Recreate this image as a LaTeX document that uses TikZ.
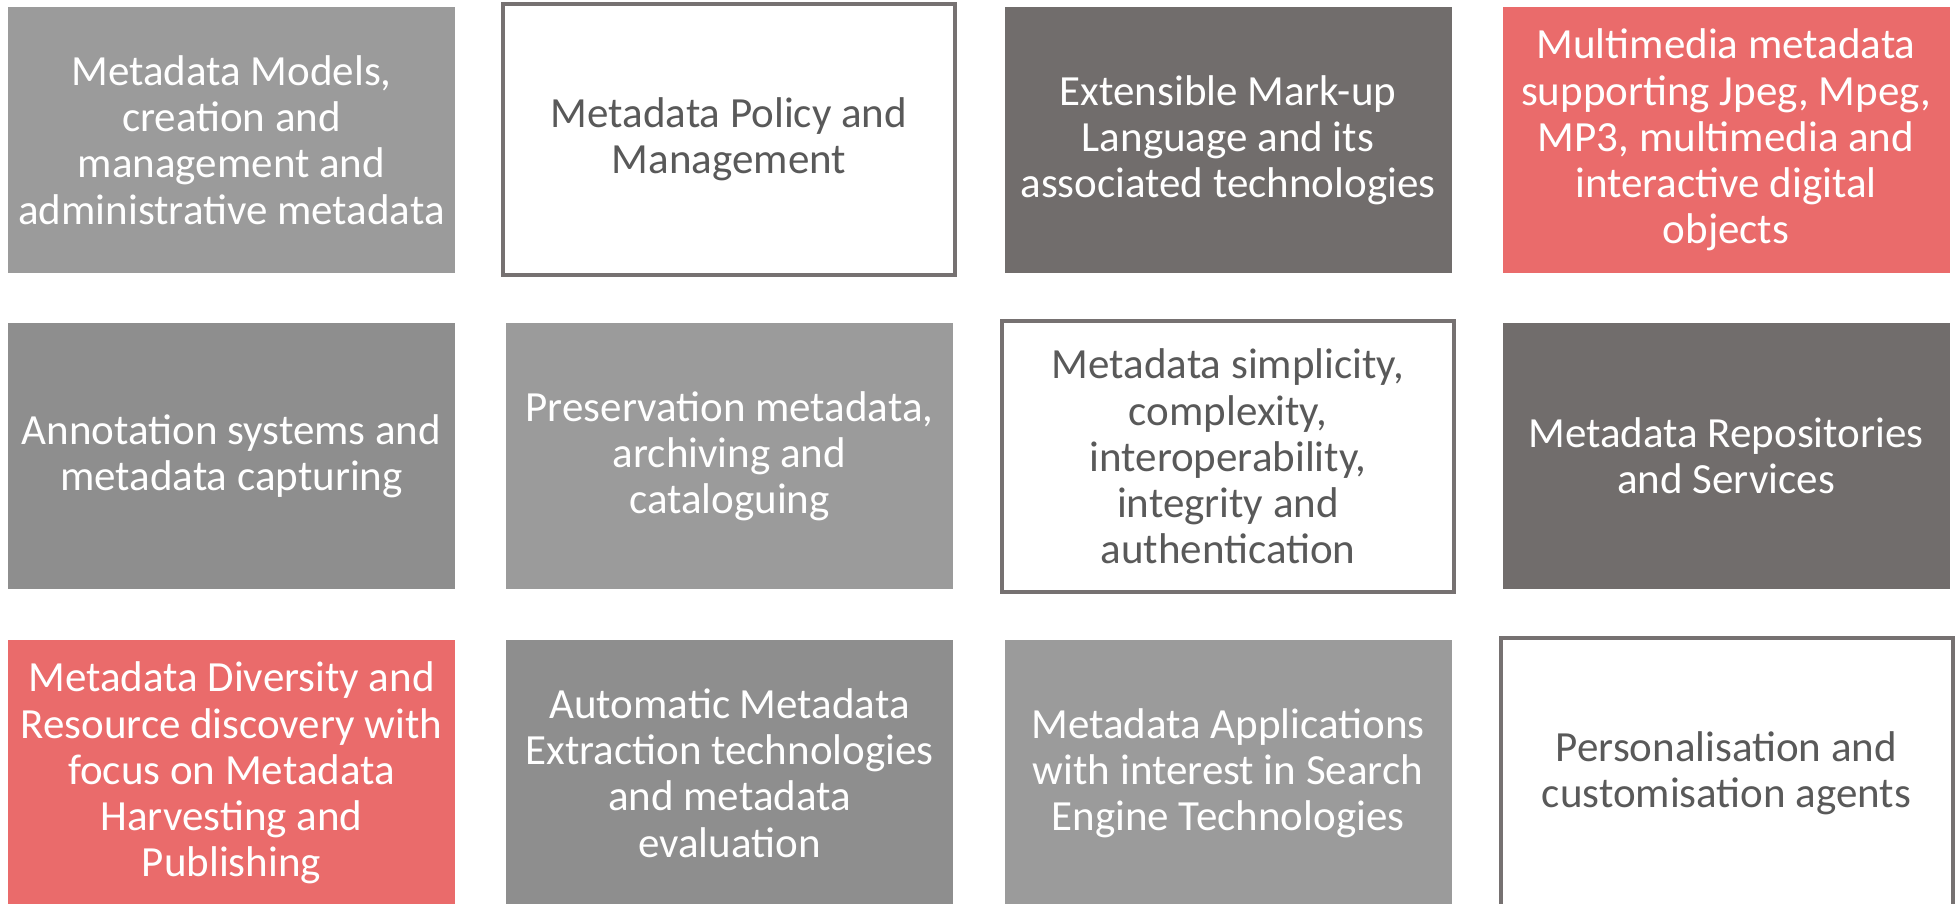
\documentclass[tikz,border=0pt]{standalone}
\usepackage{fontspec}
\setmainfont{Carlito}
\definecolor{lightgrey}{HTML}{9B9B9B}
\definecolor{midgrey}{HTML}{8E8E8E}
\definecolor{darkgrey}{HTML}{716D6C}
\definecolor{salmon}{HTML}{EA6B6B}
\definecolor{framegrey}{HTML}{767171}
\definecolor{textgrey}{HTML}{595959}
\begin{document}
\begin{tikzpicture}
[x=0.5pt,y=-0.5pt,
topic/.style={minimum width=223.5pt,minimum height=133pt,inner sep=0pt,
              align=center,text=white,
              font=\fontsize{21.5}{23.1}\selectfont},
framed/.style={topic,fill=white,draw=framegrey,line width=2pt,
               minimum width=226pt,minimum height=135.5pt,text=textgrey}]
\useasboundingbox (0,0) rectangle (1958,904);
\clip (0,0) rectangle (1958,904);
% first row
\node[topic,fill=lightgrey] (models) at (231.5,140)
  {Metadata Models,\\creation and\\management and\\administrative metadata};
\node[framed] (policy) at (729,139.5)
  {Metadata Policy and\\Management};
\node[topic,fill=darkgrey] (xml) at (1228,140)
  {Extensible Mark-up\\Language and its\\associated technologies};
\node[topic,fill=salmon] (multimedia) at (1726,140)
  {Multimedia metadata\\supporting Jpeg, Mpeg,\\MP3, multimedia and\\interactive digital\\objects};
% second row
\node[topic,fill=midgrey] (annotation) at (231.5,456)
  {Annotation systems and\\metadata capturing};
\node[topic,fill=lightgrey] (preservation) at (729.5,456)
  {Preservation metadata,\\archiving and\\cataloguing};
\node[framed] (simplicity) at (1228,456.5)
  {Metadata simplicity,\\complexity,\\interoperability,\\integrity and\\authentication};
\node[topic,fill=darkgrey] (repositories) at (1726,456)
  {Metadata Repositories\\and Services};
% third row
\node[topic,fill=salmon] (diversity) at (231.5,773)
  {Metadata Diversity and\\Resource discovery with\\focus on Metadata\\Harvesting and\\Publishing};
\node[topic,fill=midgrey] (extraction) at (729.5,773)
  {Automatic Metadata\\Extraction technologies\\and metadata\\evaluation};
\node[topic,fill=lightgrey] (applications) at (1228,773)
  {Metadata Applications\\with interest in Search\\Engine Technologies};
\node[framed] (personalisation) at (1726.5,773)
  {Personalisation and\\customisation agents};
\end{tikzpicture}
\end{document}
